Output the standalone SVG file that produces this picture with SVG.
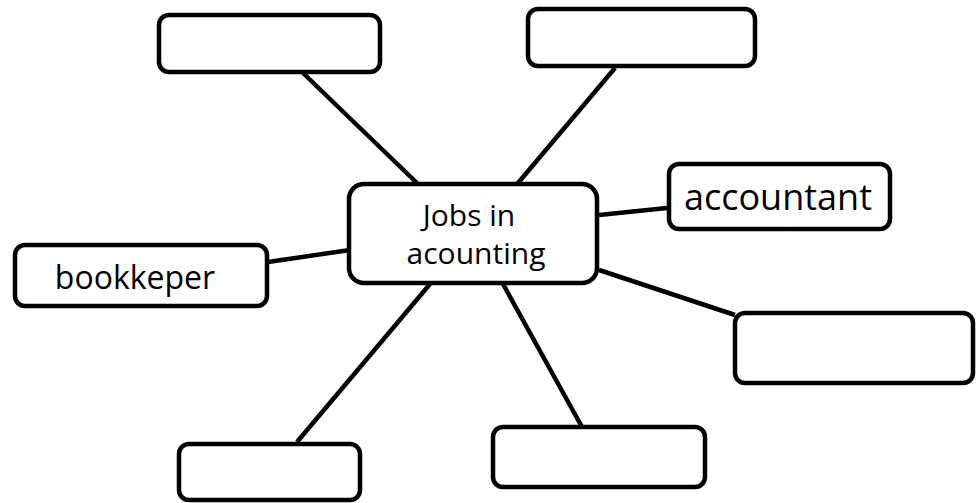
<svg xmlns="http://www.w3.org/2000/svg" width="976" height="503" viewBox="0 0 976 503">
<style>
.box{fill:#fff;stroke:#000;stroke-width:4.5}
.ln{stroke:#000;stroke-width:4.5;fill:none}
.t{font-family:"Open Sans","DejaVu Sans",sans-serif;fill:#000;text-anchor:middle}
</style>
<rect width="976" height="503" fill="#fff"/>
<g id="connectors">
<line class="ln" x1="303" y1="73" x2="417" y2="183"/>
<line class="ln" x1="615" y1="68" x2="518" y2="183"/>
<line class="ln" x1="667" y1="208" x2="599" y2="215"/>
<line class="ln" x1="268" y1="262" x2="350" y2="250"/>
<line class="ln" x1="599" y1="270" x2="735" y2="315"/>
<line class="ln" x1="430" y1="284" x2="297" y2="442"/>
<line class="ln" x1="503" y1="284" x2="582" y2="427"/>
</g>
<g id="n-top-left"><rect class="box" x="159" y="15" width="221" height="57" rx="10"/></g>
<g id="n-top-right"><rect class="box" x="528" y="9" width="227" height="57" rx="10"/></g>
<g id="n-center"><rect class="box" x="349" y="184" width="248" height="99" rx="15"/>
<text class="t" x="469" y="226" font-size="30">Jobs in</text>
<text class="t" x="476" y="264" font-size="30">acounting</text></g>
<g id="n-bookkeper"><rect class="box" x="15" y="245" width="252" height="61" rx="10"/>
<text class="t" x="135" y="289" font-size="32">bookkeper</text></g>
<g id="n-accountant"><rect class="box" x="669" y="164" width="221" height="65" rx="10"/>
<text class="t" x="778" y="210" font-size="36">accountant</text></g>
<g id="n-right"><rect class="box" x="735" y="313" width="238" height="70" rx="10"/></g>
<g id="n-bottom-left"><rect class="box" x="179" y="444" width="181" height="56" rx="10"/></g>
<g id="n-bottom-mid"><rect class="box" x="493" y="427" width="212" height="60" rx="10"/></g>
</svg>
